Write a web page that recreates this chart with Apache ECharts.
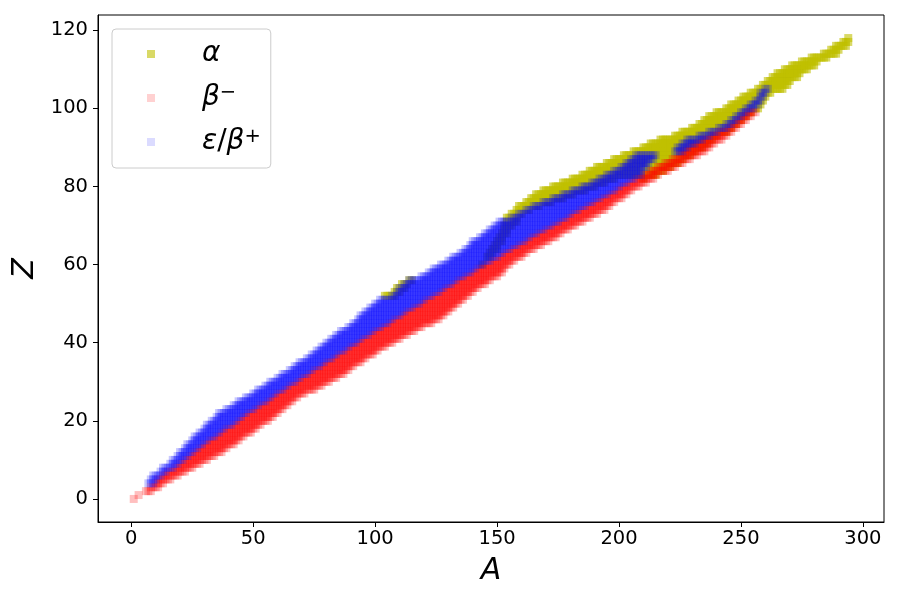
<!DOCTYPE html>
<html><head><meta charset="utf-8">
<script src="https://cdn.jsdelivr.net/npm/echarts@6.0.0/dist/echarts.min.js"></script>
<style>html,body{margin:0;padding:0;background:#fff}#c{width:900px;height:600px}</style>
</head><body><div id="c"></div>
<script>
// Tick labels
const xTicks = [0, 50, 100, 150, 200, 250, 300];
const yTicks = [0, 20, 40, 60, 80, 100, 120];

// alpha decay: rows of proton number Z with mass-number range [Amin, Amax]
const alphaZ    = [52,53,54,55,56,60,62,63,64,65,66,67,68,69,70,71,72,73,74,75,76,77,78,79,80,81,82,82,83,84,85,86,87,88,89,90,91,92,93,94,95,96,97,98,99,100,101,102,103,104,105,106,107,108,109,110,111,112,113,114,115,116,117,118];
const alphaAmin = [104,108,109,111,114,144,146,147,148,149,150,151,152,153,153,154,154,156,158,159,162,164,166,169,173,177,181,210,185,188,191,195,198,202,206,210,213,217,223,226,230,233,235,237,240,244,246,249,251,254,257,259,261,263,265,268,271,275,279,284,287,289,292,294];
const alphaAmax = [108,110,112,113,115,144,147,148,150,150,152,152,154,154,156,158,158,160,163,167,172,177,181,186,190,194,198,210,215,218,221,224,226,229,231,234,236,238,240,244,246,248,250,252,254,257,258,259,260,262,267,269,270,273,274,277,280,281,285,289,290,293,294,294];

// beta-minus decay
const bmZ    = [0,1,2,3,4,5,6,7,8,9,10,11,12,13,14,15,16,17,18,19,20,21,22,23,24,25,26,27,28,29,30,31,32,33,34,35,36,37,38,39,40,41,42,43,44,45,46,47,48,49,50,51,52,53,54,55,56,57,58,59,60,61,62,63,64,65,66,67,68,69,70,71,72,73,74,75,76,77,78,79,80,81,82,83,84,85,86,87,88,89,90,91,92,93,94,95,96,97,98,99];
const bmAmin = [1,3,6,8,10,11,13,15,18,20,22,24,26,28,30,32,35,37,39,42,44,46,48,51,53,56,58,60,63,65,68,70,73,75,78,80,83,85,88,90,93,95,98,100,103,106,108,111,113,116,119,121,124,127,129,132,134,137,140,142,145,148,151,153,156,159,162,164,167,170,173,176,179,181,184,187,190,193,196,199,201,204,207,210,213,216,219,222,225,227,229,232,235,238,241,245,247,249,251,253];
const bmAmax = [1,3,8,11,13,16,19,22,25,28,31,34,37,39,42,44,46,49,51,53,56,58,60,62,64,66,68,71,75,78,81,84,87,89,91,94,96,99,101,104,107,110,113,116,119,123,126,128,130,132,134,136,138,140,142,145,147,150,152,153,155,157,160,162,165,168,171,174,176,179,182,185,188,191,194,196,198,201,203,205,208,211,214,216,220,223,226,229,232,235,237,239,242,244,246,248,250,252,254,256];

// electron capture / beta-plus decay
const ecZ    = [4,5,6,7,8,9,10,11,12,13,14,15,16,17,18,19,20,21,22,23,24,25,26,27,28,29,30,31,32,33,34,35,36,37,38,39,40,41,42,43,44,45,46,47,48,49,50,51,52,53,54,55,56,57,58,59,60,61,62,63,64,65,66,67,68,69,70,71,72,73,74,75,76,77,78,79,80,81,82,83,84,85,86,87,88,89,90,91,92,93,94,95,96,97,98,99,100,101,102,103,104,105];
const ecAmin = [7,8,9,12,13,16,17,19,20,22,23,25,26,28,30,31,33,35,36,39,42,44,47,50,52,55,57,60,62,65,67,69,72,74,76,78,80,82,84,86,89,91,93,94,96,98,100,102,107,109,110,112,114,119,122,124,127,130,132,135,137,139,140,143,145,147,149,151,156,159,162,165,169,173,177,181,185,189,192,195,198,201,203,205,207,223,224,226,228,233,237,241,244,246,248,250,252,254,256,258,258,260];
const ecAmax = [9,10,12,14,17,19,21,23,25,27,29,31,34,36,38,41,43,45,47,50,52,55,57,59,62,64,67,69,72,74,77,79,82,84,87,89,92,94,97,99,102,105,107,110,112,115,118,120,123,126,128,131,133,136,139,141,144,147,150,152,155,158,161,163,166,169,172,175,178,180,183,186,189,192,195,198,200,203,206,209,209,211,212,214,215,226,228,231,234,237,240,244,246,248,250,252,255,257,258,259,260,261];

function expand(zs, mins, maxs) {
  const pts = [];
  for (let i = 0; i < zs.length; i++) {
    for (let a = mins[i]; a <= maxs[i]; a++) pts.push([a, zs[i]]);
  }
  return pts;
}

const FONT = 'DejaVu Sans';
const chart = echarts.init(document.getElementById('c'), null, {renderer: 'canvas'});

function mkSeries(name, data, color, op) {
  return {
    name: name, type: 'scatter', symbol: 'rect', symbolSize: 8,
    data: data, large: false, progressive: 0, silent: true,
    itemStyle: {color: color, opacity: op},
    emphasis: {disabled: true}
  };
}

const axisCommon = {
  type: 'value',
  nameLocation: 'middle',
  nameTextStyle: {fontFamily: FONT, fontStyle: 'italic', fontSize: 30, color: '#000'},
  axisLine: {show: true, onZero: false, lineStyle: {color: '#000', width: 1}},
  splitLine: {show: false}
};

chart.setOption({
  animation: false,
  backgroundColor: '#fff',
  grid: {left: 98, right: 16, top: 15, bottom: 78, show: true, borderColor: '#000', borderWidth: 1, backgroundColor: 'transparent'},
  xAxis: Object.assign({}, axisCommon, {
    min: -13.65, max: 308.65, name: 'A', nameGap: 34,
    axisTick: {show: true, length: 5, customValues: xTicks, lineStyle: {color: '#000'}},
    axisLabel: {customValues: xTicks, fontFamily: FONT, fontSize: 19.5, color: '#000', margin: 7}
  }),
  yAxis: Object.assign({}, axisCommon, {
    min: -5.9, max: 123.9, name: 'Z', nameGap: 57, nameRotate: 90,
    axisTick: {show: true, length: 5, customValues: yTicks, lineStyle: {color: '#000'}},
    axisLabel: {customValues: yTicks, fontFamily: FONT, fontSize: 19.5, color: '#000', margin: 10}
  }),
  legend: {
    orient: 'vertical', left: 112, top: 29,
    padding: [11, 10, 12, 35], itemGap: 15, itemWidth: 8, itemHeight: 8,
    icon: 'rect', borderColor: '#cccccc', borderWidth: 1, borderRadius: 4,
    backgroundColor: 'rgba(255,255,255,0.8)', selectedMode: false,
    data: [
      {name: 'α', itemStyle: {color: '#bfbf00', opacity: 0.6}},
      {name: 'β-', itemStyle: {color: '#ff0000', opacity: 0.18}},
      {name: 'ε/β+', itemStyle: {color: '#0000ff', opacity: 0.14}}
    ],
    formatter: function (n) {
      if (n === 'α') return '{g|α}';
      if (n === 'β-') return '{g|β}{s|−}';
      return '{g|ε}{u|/}{g|β}{s|+}';
    },
    textStyle: {
      padding: [0, 0, 0, 42],
      rich: {
        g: {fontFamily: FONT, fontStyle: 'italic', fontSize: 28, lineHeight: 30, color: '#000'},
        u: {fontFamily: FONT, fontSize: 28, lineHeight: 30, color: '#000'},
        s: {fontFamily: FONT, fontSize: 19.5, lineHeight: 14, verticalAlign: 'top', color: '#000'}
      }
    }
  },
  series: [
    mkSeries('α', expand(alphaZ, alphaAmin, alphaAmax), '#bfbf00', 0.6),
    mkSeries('β-', expand(bmZ, bmAmin, bmAmax), '#ff0000', 0.25),
    mkSeries('ε/β+', expand(ecZ, ecAmin, ecAmax), '#0000ff', 0.22)
  ]
});
</script>
</body></html>
